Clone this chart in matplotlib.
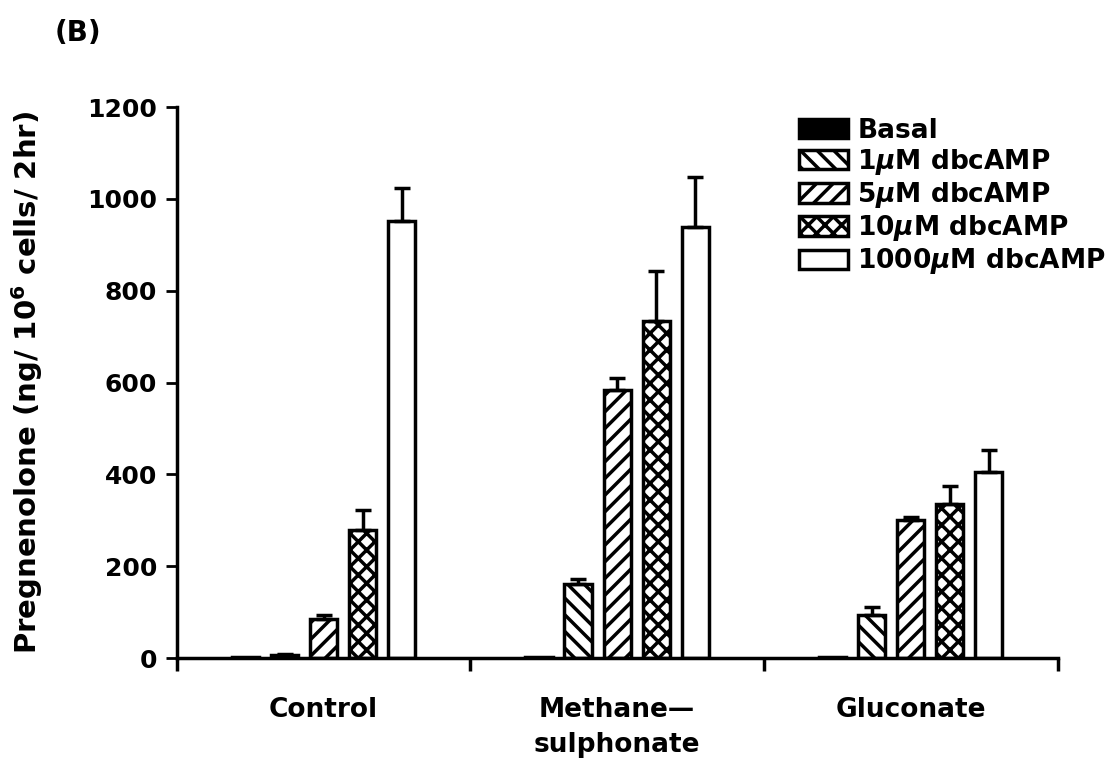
import matplotlib
matplotlib.use('Agg')
import matplotlib.pyplot as plt
import numpy as np

plt.rcParams['font.family'] = ['DejaVu Sans']
plt.rcParams['font.weight'] = 'bold'
plt.rcParams['mathtext.default'] = 'it'
plt.rcParams['hatch.linewidth'] = 2.5

# Data (ng / 10^6 cells / 2hr)
GROUPS = ['Control', 'Methane\u2014\nsulphonate', 'Gluconate']
SERIES = ['Basal', '1$\\mu$M dbcAMP', '5$\\mu$M dbcAMP', '10$\\mu$M dbcAMP', '1000$\\mu$M dbcAMP']
BASAL = [3, 2, 3]
UM1 = [6, 162, 95]
UM5 = [85, 585, 300]
UM10 = [280, 735, 335]
UM1000 = [952, 938, 405]
ERR_BASAL = [0, 0, 0]
ERR_UM1 = [2, 10, 17]
ERR_UM5 = [9, 25, 8]
ERR_UM10 = [43, 108, 40]
ERR_UM1000 = [72, 110, 48]

values = [BASAL, UM1, UM5, UM10, UM1000]
errors = [ERR_BASAL, ERR_UM1, ERR_UM5, ERR_UM10, ERR_UM1000]
colors = ['black', 'white', 'white', 'white', 'white']
hatches = [None, '\\\\', '//', 'xx', None]

fig = plt.figure(figsize=(11.12, 7.6), dpi=100)
ax = fig.add_axes([0.159, 0.134, 0.792, 0.725])

x = np.arange(len(GROUPS))
step = 0.133
width = 0.093
for i in range(5):
    pos = x + (i - 2) * step
    ax.bar(pos, values[i], width=width, color=colors[i], edgecolor='black',
           linewidth=2.5, hatch=hatches[i], label=SERIES[i], zorder=2)
    if i > 0:
        ax.errorbar(pos, values[i], yerr=[np.zeros(3), errors[i]], fmt='none',
                    ecolor='black', elinewidth=2.5, capsize=6, capthick=2.5, zorder=3)

ax.set_xlim(-0.5, 2.5)
ax.set_ylim(0, 1200)
ax.set_yticks([0, 200, 400, 600, 800, 1000, 1200])
ax.set_xticks(x)
ax.set_xticklabels(GROUPS, fontsize=19, linespacing=1.45)
ax.set_xticks([-0.5, 0.5, 1.5, 2.5], minor=True)
ax.tick_params(axis='x', which='major', length=0, pad=28)
ax.tick_params(axis='x', which='minor', length=9, width=2.5, direction='out')
ax.tick_params(axis='y', length=8, width=2, direction='out', labelsize=18, pad=6)

ax.spines['top'].set_visible(False)
ax.spines['right'].set_visible(False)
ax.spines['left'].set_linewidth(2.5)
ax.spines['bottom'].set_linewidth(2.5)

ax.set_ylabel('Pregnenolone (ng/ 10$^{\\mathbf{6}}$ cells/ 2hr)', fontsize=21, fontweight='bold')
ax.yaxis.set_label_coords(-0.15, 0.5)

leg = ax.legend(loc='upper right', bbox_to_anchor=(1.067, 1.0), frameon=False,
                handlelength=1.85, handleheight=0.75, handletextpad=0.35, labelspacing=0.12,
                borderaxespad=0.0, prop={'weight': 'bold', 'size': 19})

fig.text(0.049, 0.957, '(B)', fontsize=20, va='center')

plt.savefig('out.png', dpi=100)
